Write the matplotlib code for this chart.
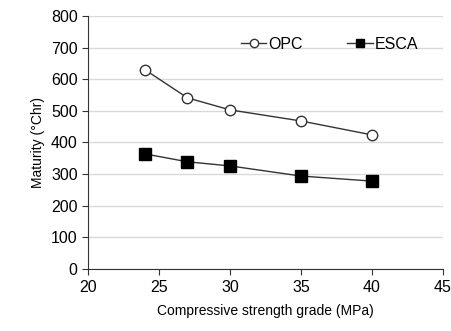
import matplotlib
matplotlib.use('Agg')
import matplotlib.pyplot as plt

plt.rcParams['font.family'] = ['Liberation Sans', 'DejaVu Sans']

grade = [24, 27, 30, 35, 40]
opc = [630, 541, 503, 468, 424]
esca = [364, 339, 326, 294, 278]

fig = plt.figure(figsize=(4.52, 3.31), dpi=100)
ax = fig.add_axes([0.195, 0.187, 0.785, 0.765])

ax.plot(grade, opc, color='#333333', lw=1, marker='o', ms=7.5,
        mfc='white', mec='#333333', mew=1, label='OPC')
ax.plot(grade, esca, color='#333333', lw=1, marker='s', ms=8,
        mfc='black', mec='black', label='ESCA')

ax.set_xlim(20, 45)
ax.set_ylim(0, 800)
ax.set_xticks(range(20, 46, 5))
ax.set_yticks(range(0, 801, 100))
ax.yaxis.grid(True, color='#d9d9d9', lw=1)
ax.set_axisbelow(True)
for s in ['top', 'right']:
    ax.spines[s].set_visible(False)
for s in ['left', 'bottom']:
    ax.spines[s].set_color('#333333')
ax.tick_params(labelsize=11.5, colors='#333333', length=4, labelcolor='black')

ax.set_xlabel('Compressive strength grade (MPa)', fontsize=10, labelpad=7)
ax.set_ylabel('Maturity (\u00b0Chr)', fontsize=10)

ax.legend(loc='upper right', bbox_to_anchor=(0.97, 0.975), ncol=2, frameon=False,
          fontsize=11.5, handlelength=1.6, handletextpad=0.1, columnspacing=2.8,
          markerscale=0.8)

fig.savefig('out.png', dpi=100)
